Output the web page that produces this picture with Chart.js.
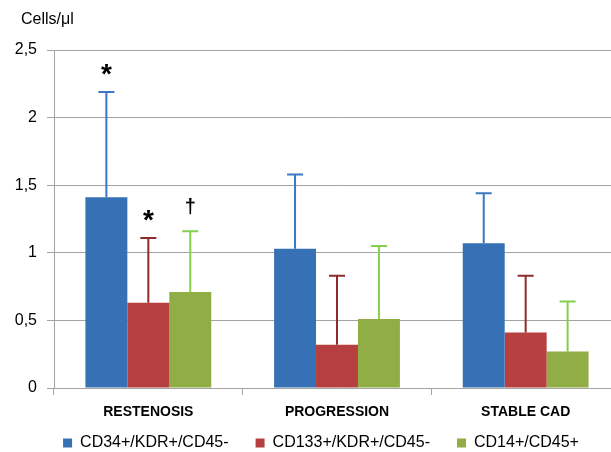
<!DOCTYPE html>
<html>
<head>
<meta charset="utf-8">
<script src="https://cdn.jsdelivr.net/npm/chart.js@4"></script>
<style>
  html, body { margin: 0; padding: 0; overflow: hidden; background: #fff; }
  #wrap { width: 643px; height: 477px; }
</style>
</head>
<body>
<div id="wrap"><canvas id="barChart"></canvas></div>
<script>
// data (Cells/µl, mean and SD)
const categories = ['RESTENOSIS', 'PROGRESSION', 'STABLE CAD'];
const seriesNames = ['CD34+/KDR+/CD45-', 'CD133+/KDR+/CD45-', 'CD14+/CD45+'];
const cd34 = [1.41, 1.03, 1.07];
const cd34Sd = [0.78, 0.55, 0.37];
const cd133 = [0.63, 0.32, 0.41];
const cd133Sd = [0.48, 0.51, 0.42];
const cd14 = [0.71, 0.51, 0.27];
const cd14Sd = [0.45, 0.54, 0.37];
// significance marks above the error bars
const cd34Marks = ['*', '', ''];
const cd133Marks = ['*', '', ''];
const cd14Marks = ['\u2020', '', ''];
const yMax = 2.5;
const yStep = 0.5;

const FONT = "'Liberation Sans', Arial, sans-serif";
const GRID = '#a3a3a3';

const sds = [cd34Sd, cd133Sd, cd14Sd];
const marks = [cd34Marks, cd133Marks, cd14Marks];
const errColors = ['#3a78c2', '#8e2b2c', '#84cf4c'];

// error bars + marks, drawn from the bar elements and the y scale
const errorBars = {
  id: 'errorBars',
  afterLayout(chart) {
    // legend sits closer to the axis labels than chart.js would put it
    const lg = chart.legend;
    lg.top -= 16; lg.bottom -= 16;
    lg.left += 11; lg.right += 11;
  },
  afterDatasetsDraw(chart) {
    const ctx = chart.ctx;
    const y = chart.scales.y;
    chart.data.datasets.forEach((ds, i) => {
      const meta = chart.getDatasetMeta(i);
      meta.data.forEach((bar, j) => {
        const top = y.getPixelForValue(ds.data[j] + sds[i][j]);
        ctx.save();
        ctx.strokeStyle = errColors[i];
        ctx.lineWidth = 2;
        ctx.beginPath();
        ctx.moveTo(bar.x, bar.y);
        ctx.lineTo(bar.x, top);
        ctx.moveTo(bar.x - 8, top);
        ctx.lineTo(bar.x + 8, top);
        ctx.stroke();
        const m = marks[i][j];
        if (m) {
          ctx.fillStyle = '#000';
          ctx.textAlign = 'center';
          ctx.textBaseline = 'middle';
          if (m === '*') {
            ctx.font = 'bold 28px ' + FONT;
            ctx.fillText(m, bar.x, top - 17);
          } else {
            ctx.font = 'bold 20px ' + FONT;
            ctx.fillText(m, bar.x, top - 24);
          }
        }
        ctx.restore();
      });
    });
  },
  afterDraw(chart) {
    const ctx = chart.ctx;
    ctx.save();
    ctx.fillStyle = '#000';
    ctx.font = '16px ' + FONT;
    ctx.textAlign = 'left';
    ctx.textBaseline = 'middle';
    ctx.fillText('Cells/\u03bcl', 21, 20);
    ctx.restore();
  }
};

const ctx = document.getElementById('barChart').getContext('2d');
new Chart(ctx, {
  type: 'bar',
  data: {
    labels: categories,
    datasets: [
      { label: seriesNames[0], data: cd34, backgroundColor: '#3571b4' },
      { label: seriesNames[1], data: cd133, backgroundColor: '#b6403f' },
      { label: seriesNames[2], data: cd14, backgroundColor: '#90ae45' }
    ]
  },
  options: {
    responsive: true,
    maintainAspectRatio: false,
    animation: false,
    layout: { padding: { top: 50, right: 23, left: 0, bottom: 0 } },
    datasets: {
      bar: { categoryPercentage: 0.667, barPercentage: 1.0 }
    },
    scales: {
      x: {
        grid: { drawOnChartArea: false, color: GRID, tickLength: 7 },
        border: { color: GRID },
        ticks: { color: '#000', font: { family: FONT, size: 14, weight: 'bold' }, padding: 9 },
        afterFit: (s) => { s.height = 36; }
      },
      y: {
        min: 0,
        max: yMax,
        grid: { color: GRID, tickLength: 7 },
        border: { color: GRID },
        ticks: {
          stepSize: yStep,
          color: '#000',
          padding: 10,
          font: { family: FONT, size: 16 },
          callback: (v) => String(v).replace('.', ',')
        },
        afterFit: (s) => { s.width = 54; }
      }
    },
    plugins: {
      legend: {
        position: 'bottom',
        labels: {
          boxWidth: 9,
          boxHeight: 9,
          padding: 27,
          color: '#000',
          font: { family: FONT, size: 16 }
        }
      },
      tooltip: { enabled: false }
    }
  },
  plugins: [errorBars]
});
</script>
</body>
</html>
